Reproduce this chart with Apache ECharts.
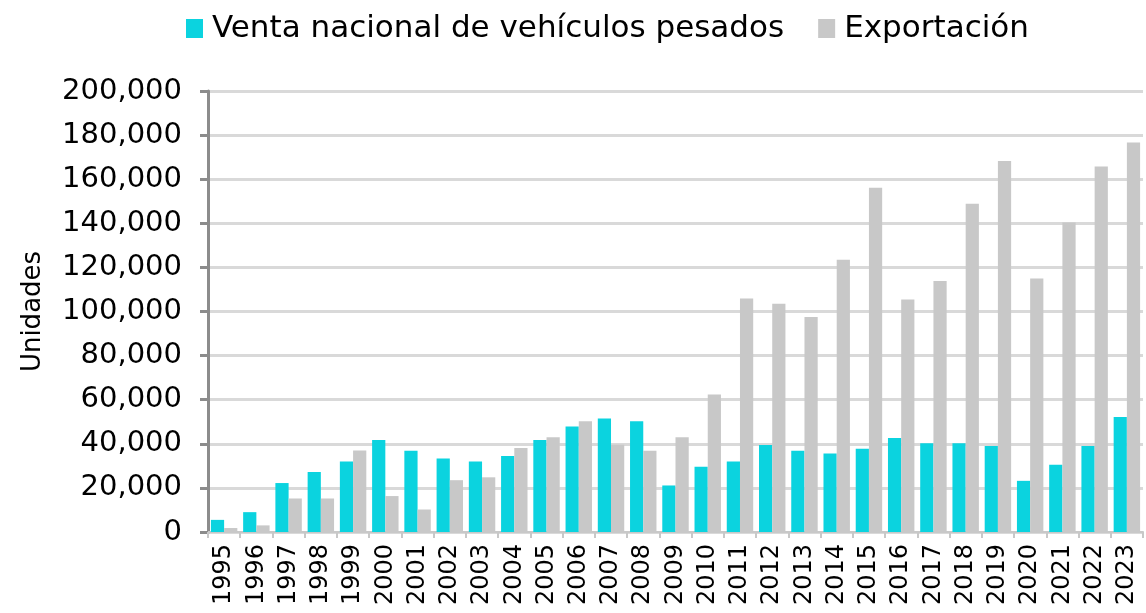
<!DOCTYPE html>
<html>
<head>
<meta charset="utf-8">
<script src="https://cdn.jsdelivr.net/npm/echarts@6/dist/echarts.min.js"></script>
<style>
  html, body { margin: 0; padding: 0; background: #fff; }
  #chart { width: 1146px; height: 613px; }
</style>
</head>
<body>
<div id="chart"></div>
<script>
// años
var years = ['1995', '1996', '1997', '1998', '1999', '2000', '2001', '2002', '2003', '2004',
	'2005', '2006', '2007', '2008', '2009', '2010', '2011', '2012', '2013', '2014',
	'2015', '2016', '2017', '2018', '2019', '2020', '2021', '2022', '2023'];
// venta nacional (unidades)
var ventaNacional = [5500, 9000, 22200, 27200, 32000, 41700, 36900, 33300, 32000, 34500,
	41700, 47800, 51500, 50200, 21100, 29600, 32000, 39500, 36900, 35600,
	37700, 42600, 40200, 40200, 39000, 23200, 30500, 39000, 52200];
// exportación (unidades)
var exportacion = [1800, 3000, 15200, 15200, 37000, 16300, 10200, 23500, 24800, 38100,
	43000, 50200, 39600, 36900, 43000, 62400, 105900, 103500, 97500, 123500,
	156100, 105400, 113800, 148900, 168200, 115000, 140400, 165800, 176600];

var fontFam = '"DejaVu Sans", sans-serif';
var chart = echarts.init(document.getElementById('chart'));

var option = {
	animation: false,
	legend: {
		top: 8,
		left: 181,
		itemWidth: 17,
		itemHeight: 19,
		itemGap: 34,
		icon: 'rect',
		textStyle: {
			fontFamily: fontFam,
			fontSize: 31,
			color: '#000',
			padding: [0, 0, 0, 4]
		},
		data: ['Venta nacional de vehículos pesados', 'Exportación']
	},
	grid: {
		left: 208,
		right: 3,
		top: 91,
		bottom: 81,
		containLabel: false
	},
	xAxis: {
		type: 'category',
		data: years,
		axisLine: { lineStyle: { color: '#c8c8c8', width: 2 } },
		axisTick: { show: true, alignWithLabel: false, length: 6, lineStyle: { color: '#c8c8c8', width: 2 } },
		axisLabel: {
			rotate: 90,
			interval: 0,
			margin: 12,
			fontFamily: fontFam,
			fontSize: 24,
			color: '#000'
		}
	},
	yAxis: {
		type: 'value',
		min: 0,
		max: 200000,
		interval: 20000,
		name: 'Unidades',
		nameLocation: 'middle',
		nameGap: 162,
		nameRotate: 90,
		nameTextStyle: {
			fontFamily: fontFam,
			fontSize: 26,
			color: '#000'
		},
		axisLine: { show: true, lineStyle: { color: '#8c8c8c', width: 3 } },
		axisTick: { show: true, length: 8, lineStyle: { color: '#8c8c8c', width: 3 } },
		axisLabel: {
			margin: 26,
			fontFamily: fontFam,
			fontSize: 29,
			color: '#000',
			formatter: function (v) {
				return v.toLocaleString('en-US');
			}
		},
		splitLine: { lineStyle: { color: '#d9d9d9', width: 3 } }
	},
	series: [{
		name: 'Venta nacional de vehículos pesados',
		type: 'bar',
		data: ventaNacional,
		barGap: '0%',
		barCategoryGap: '18%',
		itemStyle: { color: '#0bd3df' }
	}, {
		name: 'Exportación',
		type: 'bar',
		data: exportacion,
		barGap: '0%',
		barCategoryGap: '18%',
		itemStyle: { color: '#c8c8c8' }
	}]
};

chart.setOption(option);
</script>
</body>
</html>
